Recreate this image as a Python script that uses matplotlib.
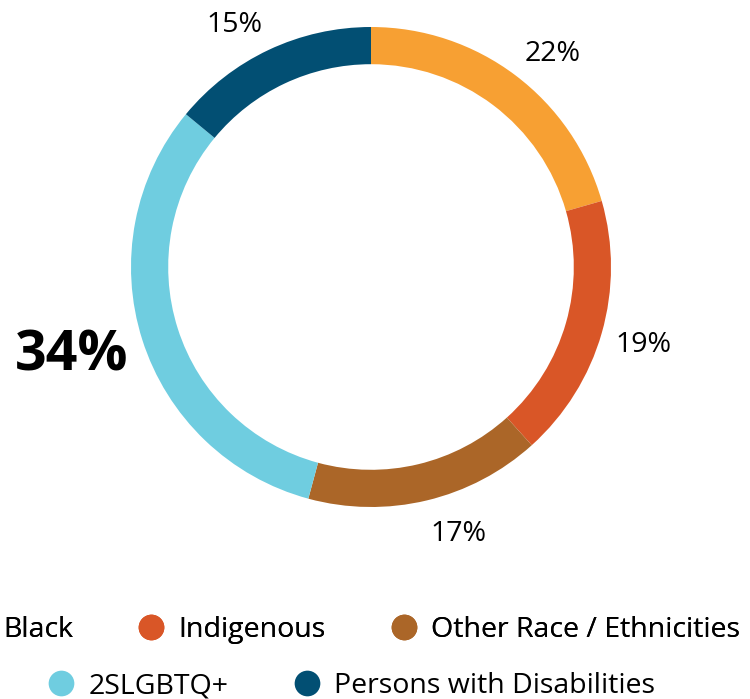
import matplotlib
matplotlib.use("Agg")
import matplotlib.pyplot as plt
from matplotlib.lines import Line2D
import numpy as np

categories = ["Black", "Indigenous", "Other Race / Ethnicities", "2SLGBTQ+", "Persons with Disabilities"]
values = [22, 19, 17, 34, 15]
labels = ["22%", "19%", "17%", "34%", "15%"]
colors = ["#F7A033", "#D95627", "#AB6628", "#6FCDE0", "#024F73"]

plt.rcParams['font.family'] = ['Open Sans', 'DejaVu Sans']

W, H = 750, 699
fig = plt.figure(figsize=(W / 100, H / 100), dpi=100)
cx, cy, r = 371, 267, 240
ax = fig.add_axes([(cx - r) / W, (H - cy - r) / H, 2 * r / W, 2 * r / H])

wedges, _ = ax.pie(values, colors=colors, startangle=90, counterclock=False,
                   wedgeprops=dict(width=0.155, linewidth=0))
ax.set_xlim(-1, 1)
ax.set_ylim(-1, 1)
ax.set_aspect('equal')
ax.axis('off')

for i, (w, lab) in enumerate(zip(wedges, labels)):
    ang = np.deg2rad((w.theta1 + w.theta2) / 2)
    big = values[i] == max(values)
    x, y = 1.06 * np.cos(ang), 1.13 * np.sin(ang)
    ax.text(x, y, lab, ha='left' if x > 0 else 'right', va='center_baseline',
            fontsize=40 if big else 20.5, fontweight='bold' if big else 'normal',
            color='black')

handles = [Line2D([], [], linestyle='none', marker='o', markersize=18.5,
                  markerfacecolor=c, markeredgewidth=0) for c in colors]

common = dict(frameon=False, fontsize=20.5, handlelength=1.0, handletextpad=0.45,
              columnspacing=2.25, borderpad=0, borderaxespad=0)
leg1 = fig.legend(handles[:3], categories[:3], ncol=3, loc='center',
                  bbox_to_anchor=(351 / W, 1 - 630 / H), **common)
fig.add_artist(leg1)
leg2 = fig.legend(handles[3:], categories[3:], ncol=2, loc='center',
                  bbox_to_anchor=(351 / W, 1 - 686 / H), **common)

fig.savefig("out.png", dpi=100)
